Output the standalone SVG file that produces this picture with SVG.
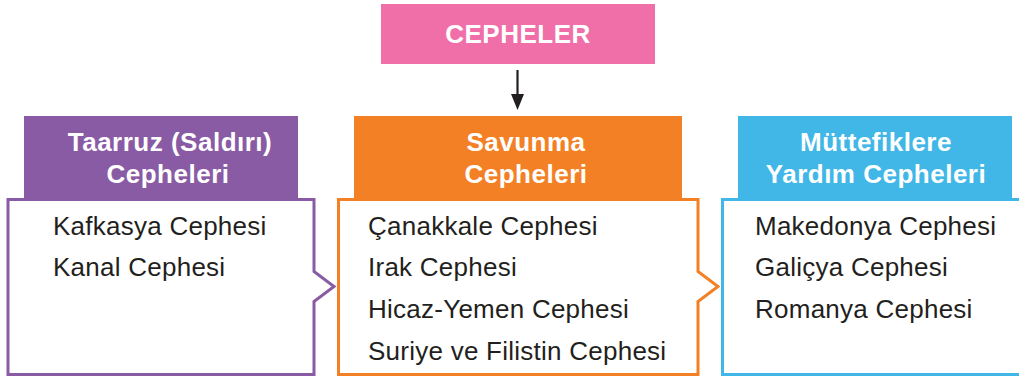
<svg xmlns="http://www.w3.org/2000/svg" width="1019" height="376" viewBox="0 0 1019 376">
<defs>
<style>
.hd{font-family:"Liberation Sans",Arial,sans-serif;font-weight:bold;font-size:26px;fill:#ffffff;text-anchor:middle;letter-spacing:0.5px}
.it{font-family:"Liberation Sans",Arial,sans-serif;font-size:26px;fill:#231f20;letter-spacing:0.25px}
.body{fill:#ffffff;stroke-width:3}
</style>
</defs>
<rect width="1019" height="376" fill="#ffffff"/>
<g id="cepheler">
<rect x="381" y="4" width="274" height="60" fill="#f06fa9"/>
<text class="hd" x="518" y="43">CEPHELER</text>
</g>
<g id="connectors">
<line x1="517.5" y1="70" x2="517.5" y2="96" stroke="#231f20" stroke-width="2.2"/>
<polygon points="511,94 524,94 517.5,110" fill="#231f20"/>
</g>
<g id="taarruz">
<path class="body" stroke="#8a5ba5" d="M8,199.5 H314 V271.5 L334,286.5 L314,301.5 V374.5 H8 Z"/>
<rect x="24" y="116" width="274" height="82" fill="#8a5ba5"/>
<text class="hd" x="170" y="151">Taarruz (Saldırı)</text>
<text class="hd" x="168" y="183">Cepheleri</text>
<text class="it" x="53" y="235">Kafkasya Cephesi</text>
<text class="it" x="53" y="276">Kanal Cephesi</text>
</g>
<g id="savunma">
<path class="body" stroke="#f48025" d="M338.5,199.5 H698 V271.5 L718,286.5 L698,301.5 V374.5 H338.5 Z"/>
<rect x="354" y="116" width="328" height="82" fill="#f48025"/>
<text class="hd" x="526" y="151">Savunma</text>
<text class="hd" x="526" y="183">Cepheleri</text>
<text class="it" x="368" y="235">Çanakkale Cephesi</text>
<text class="it" x="368" y="276">Irak Cephesi</text>
<text class="it" x="368" y="318">Hicaz-Yemen Cephesi</text>
<text class="it" x="368" y="360">Suriye ve Filistin Cephesi</text>
</g>
<g id="muttefik">
<path class="body" stroke="#41b7e8" d="M722.5,199.5 H1030 V374.5 H722.5 Z"/>
<rect x="738" y="116" width="274" height="82" fill="#41b7e8"/>
<text class="hd" x="876" y="151">Müttefiklere</text>
<text class="hd" x="876" y="183">Yardım Cepheleri</text>
<text class="it" x="755" y="235">Makedonya Cephesi</text>
<text class="it" x="755" y="276">Galiçya Cephesi</text>
<text class="it" x="755" y="318">Romanya Cephesi</text>
</g>
</svg>
